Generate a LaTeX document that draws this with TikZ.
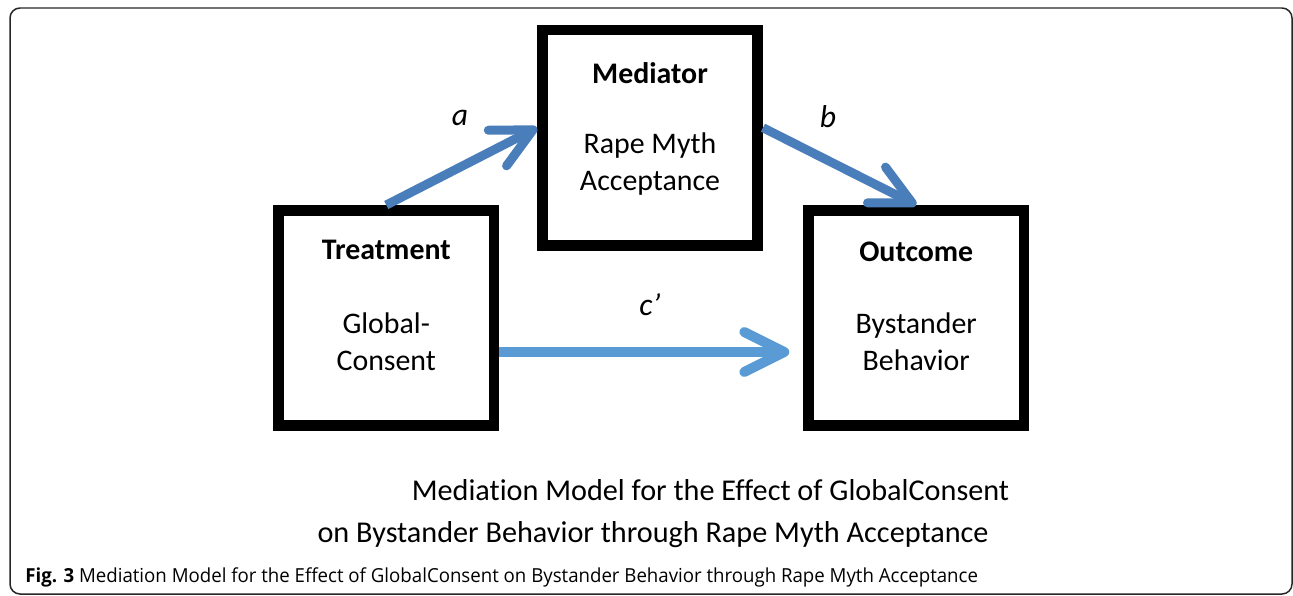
\documentclass[tikz,border=0pt]{standalone}
\usepackage{fontspec}
\setmainfont{Carlito}[Ligatures=NoCommon]
\newfontfamily\figfont[FakeStretch=0.965]{Open Sans}
\usepackage{xcolor}
\usetikzlibrary{arrows.meta,positioning}

\definecolor{pathblue}{RGB}{74,126,187}
\definecolor{directblue}{RGB}{91,155,213}

\begin{document}
\begin{tikzpicture}[x=0.02cm,y=-0.02cm]
\tikzstyle{every node}=[inner sep=0pt];
\tikzstyle{varbox}=[draw,line width=0.21cm,minimum size=4.31cm];
\tikzstyle{boxtitle}=[anchor=base,font=\fontsize{17}{21}\selectfont\bfseries];
\tikzstyle{boxtext}=[anchor=base,align=center,font=\fontsize{17}{21}\selectfont];
\tikzstyle{pathlabel}=[font=\fontsize{18}{20}\selectfont\itshape];
\tikzstyle{patharrow}=[line width=0.18cm,-{Straight Barb[round,length=0.8cm,width=0.8cm]}];

\useasboundingbox (0,0) rectangle (1293,595);
\draw[line width=0.03cm,black!85,rounded corners=0.2cm] (10,8) rectangle (1292,594);

\node[varbox] (treat) at (386.25,318) {};
\node[varbox] (med) at (650,137.75) {};
\node[varbox] (out) at (916.25,318) {};

% base of a two-line node = baseline of its last line
\node[boxtitle] (treat-title) at (386.25,259) {Treatment};
\node[boxtext] (treat-text) at (386.25,370) {Global-\\Consent};
\node[boxtitle] (med-title) at (650,83) {Mediator};
\node[boxtext] (med-text) at (650,190) {Rape Myth\\Acceptance};
\node[boxtitle] (out-title) at (916.25,261) {Outcome};
\node[boxtext] (out-text) at (916.25,370) {Bystander\\Behavior};

\path[draw] [patharrow,pathblue] (treat.north) -- ([yshift=0.2cm]med.west);
\path[draw] [patharrow,pathblue] ([yshift=0.2cm]med.east) -- (out.north);
\path[draw] [patharrow,directblue,line width=0.2cm] ([yshift=-0.68cm]treat.east) -- ([xshift=-0.28cm,yshift=-0.68cm]out.west);

\node[pathlabel] (lbl-a) at (460,118) {a};
\node[pathlabel] (lbl-b) at (828,117) {b};
\node[pathlabel] (lbl-c) at (650,305) {c’};

\node[anchor=base,font=\fontsize{17.2}{21}\selectfont] (title-1) at (710.5,500) {Mediation Model for the Effect of GlobalConsent};
\node[anchor=base,font=\fontsize{17.2}{21}\selectfont] (title-2) at (653,542) {on Bystander Behavior through Rape Myth Acceptance};
\node[anchor=base west,font=\figfont\fontsize{11}{13}\selectfont] (fig-cap) at (25,582) {\textbf{Fig. 3} Mediation Model for the Effect of GlobalConsent on Bystander Behavior through Rape Myth Acceptance};
\end{tikzpicture}
\end{document}
